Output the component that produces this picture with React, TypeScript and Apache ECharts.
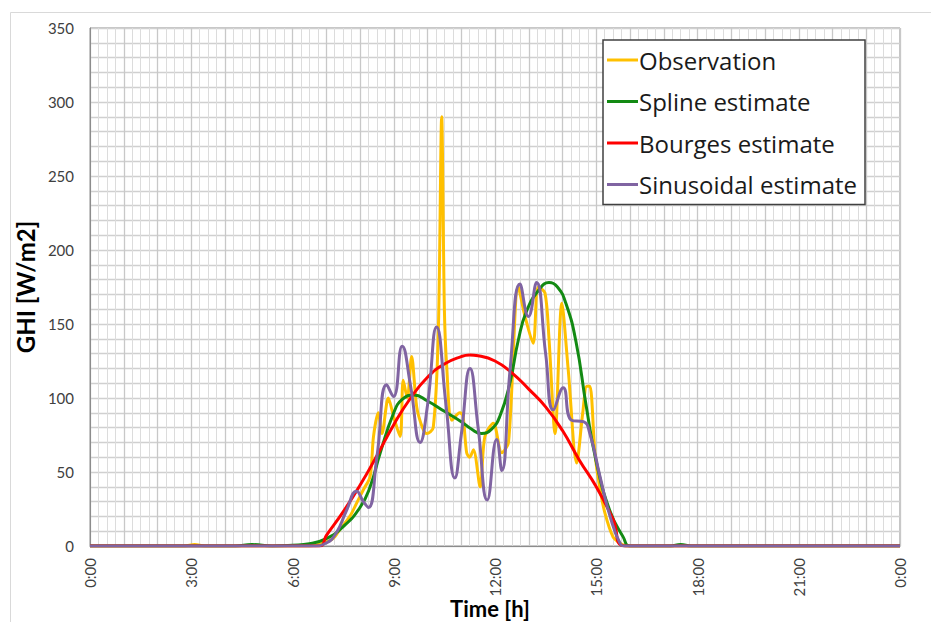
import React, { useEffect, useRef } from "react";
import * as echarts from "echarts";

// [hour, W/m2]
const observation: [number, number][] = [
  [0, 0], [2.8, 0], [3.1, 1], [3.4, 0], [6.5, 0], [6.9, 2], [7.2, 5], [7.4, 11], [7.7, 20], [7.9, 29],
  [8.1, 38], [8.3, 47], [8.4, 74], [8.54, 90], [8.65, 76], [8.84, 100], [9.0, 87], [9.19, 74],
  [9.28, 112], [9.4, 100], [9.53, 128], [9.68, 94], [9.85, 80], [9.98, 76], [10.17, 80], [10.32, 144],
  [10.42, 290], [10.5, 160], [10.57, 121], [10.72, 85], [10.96, 90], [11.05, 88], [11.16, 63],
  [11.25, 60], [11.36, 65], [11.56, 40], [11.7, 74], [11.95, 83], [12.2, 63], [12.4, 70],
  [12.69, 175], [12.89, 155], [13.13, 137], [13.28, 175], [13.48, 171], [13.6, 140], [13.78, 76],
  [13.98, 164], [14.17, 119], [14.42, 56], [14.6, 90], [14.72, 108], [14.81, 108], [14.96, 63],
  [15.1, 40], [15.26, 22], [15.5, 6], [15.7, 2], [15.9, 0], [24, 0],
];

const splineEstimate: [number, number][] = [
  [0, 0], [4.3, 0], [4.8, 1], [5.4, 0], [6.0, 0.5], [6.5, 1.5], [7.0, 5], [7.5, 13], [8.0, 26],
  [8.3, 40], [8.6, 63], [9.0, 90], [9.25, 99], [9.6, 102], [10.0, 98], [10.5, 91], [11.0, 84],
  [11.3, 79], [11.6, 76], [11.9, 79], [12.15, 88], [12.44, 110], [12.69, 139], [12.94, 159],
  [13.3, 173], [13.6, 178], [13.85, 175], [14.1, 164], [14.4, 138], [14.7, 95], [15.0, 57],
  [15.4, 24], [15.8, 6], [16.0, 0], [17.2, 0], [17.5, 1], [17.8, 0], [24, 0],
];

const bourgesEstimate: [number, number][] = [
  [0, 0], [6.8, 0], [7.0, 7], [7.5, 23], [8.0, 41], [8.5, 61], [9.0, 82], [9.5, 100], [10.0, 114],
  [10.5, 123], [11.0, 128], [11.25, 129], [11.5, 128.5], [12.0, 125], [12.5, 117], [13.0, 106],
  [13.5, 94], [14.0, 78], [14.5, 58], [15.0, 40], [15.5, 18], [15.85, 0], [24, 0],
];

const sinusoidalEstimate: [number, number][] = [
  [0, 0], [6.6, 0], [7.0, 2], [7.3, 9], [7.6, 24], [7.9, 37], [8.1, 30], [8.25, 26], [8.5, 60],
  [8.79, 109], [8.99, 101], [9.25, 135], [9.5, 108], [9.78, 70], [10.0, 95], [10.27, 148],
  [10.55, 95], [10.81, 46], [11.0, 75], [11.26, 120], [11.5, 80], [11.77, 31], [12.05, 72],
  [12.2, 51], [12.45, 120], [12.74, 177], [12.99, 155], [13.23, 178], [13.5, 130], [13.73, 92],
  [14.02, 107], [14.27, 85], [14.62, 84], [14.81, 76], [15.11, 47], [15.41, 20], [15.7, 2],
  [15.85, 0], [24, 0],
];

const seriesNames = ["Observation", "Spline estimate", "Bourges estimate", "Sinusoidal estimate"];
const seriesColors = ["#FFC000", "#138A13", "#FF0000", "#8064A2"];
const yTickLabels = [0, 50, 100, 150, 200, 250, 300, 350];
const xTickHours = [0, 3, 6, 9, 12, 15, 18, 21, 24];
const xAxisTitle = "Time [h]";
const yAxisTitle = "GHI [W/m2]";

const TITLE_FONT = "Lato, 'Open Sans', sans-serif";
const LEGEND_FONT = "'Open Sans', Lato, sans-serif";

export default function App() {
  const ref = useRef<HTMLDivElement>(null);
  useEffect(() => {
    if (!ref.current) return;
    const chart = echarts.init(ref.current, undefined, { renderer: "svg" });
    const datasets = [observation, splineEstimate, bourgesEstimate, sinusoidalEstimate];
    chart.setOption({
      animation: false,
      backgroundColor: "#ffffff",
      textStyle: { fontFamily: TITLE_FONT },
      graphic: [
        {
          type: "rect",
          shape: { x: 10.5, y: 12.5, width: 960, height: 660 },
          style: { fill: "none", stroke: "#d9d9d9", lineWidth: 1 },
          silent: true,
          z: -10,
        },
        {
          type: "text",
          x: 490,
          y: 597,
          silent: true,
          style: {
            text: xAxisTitle,
            fontFamily: TITLE_FONT,
            fontSize: 22,
            fontWeight: "bold",
            fill: "#000",
            align: "center",
            verticalAlign: "top",
          },
        },
      ],
      grid: {
        left: 90,
        right: 31,
        top: 28,
        bottom: 76,
        containLabel: false,
        outerBoundsMode: "none",
        show: true,
        borderColor: "#8c8c8c",
        borderWidth: 1,
      },
      legend: {
        orient: "vertical",
        left: 603,
        top: 40,
        data: seriesNames,
        icon: "rect",
        itemWidth: 31,
        itemHeight: 3,
        itemGap: 17.5,
        padding: [8, 8, 8, 4],
        backgroundColor: "#ffffff",
        borderColor: "#404040",
        borderWidth: 1.5,
        textStyle: { fontFamily: LEGEND_FONT, fontSize: 24, color: "#1a1a1a", lineHeight: 24, padding: [0, 0, 0, -4] },
        z: 10,
      },
      xAxis: {
        type: "value",
        min: 0,
        max: 24,
        interval: 1,
        axisLine: { show: true, lineStyle: { color: "#8c8c8c" } },
        axisTick: { show: false },
        axisLabel: {
          rotate: 90,
          margin: 12,
          fontSize: 15,
          color: "#404040",
          fontFamily: TITLE_FONT,
          formatter: (v: number) => (xTickHours.includes(v) ? `${v % 24}:00` : ""),
        },
        splitLine: { show: true, lineStyle: { color: "#c8c8c8", width: 1.3 } },
        minorTick: { show: false, splitNumber: 4 },
        minorSplitLine: { show: true, lineStyle: { color: "#dcdcdc", width: 1 } },
      },
      yAxis: {
        type: "value",
        min: 0,
        max: 350,
        interval: 10,
        name: yAxisTitle,
        nameLocation: "middle",
        nameRotate: 90,
        nameGap: 45,
        nameTextStyle: { fontFamily: TITLE_FONT, fontSize: 24, fontWeight: "bold", color: "#000" },
        axisLine: { show: true, lineStyle: { color: "#8c8c8c" } },
        axisTick: { show: false },
        axisLabel: {
          margin: 16,
          fontSize: 15,
          color: "#404040",
          fontFamily: TITLE_FONT,
          formatter: (v: number) => (yTickLabels.includes(v) ? String(v) : ""),
        },
        splitLine: { show: true, lineStyle: { color: "#d0d0d0", width: 1.3 } },
      },
      series: datasets.map((d, i) => ({
        name: seriesNames[i],
        type: "line",
        data: d,
        smooth: i === 0 ? 0.3 : 0.5,
        showSymbol: false,
        symbol: "none",
        lineStyle: { color: seriesColors[i], width: 3 },
        itemStyle: { color: seriesColors[i] },
        z: 2 + i,
      })),
    });
    return () => chart.dispose();
  }, []);
  return (
    <div
      ref={ref}
      style={{ position: "fixed", left: 0, top: 0, width: 931, height: 622 }}
    />
  );
}
